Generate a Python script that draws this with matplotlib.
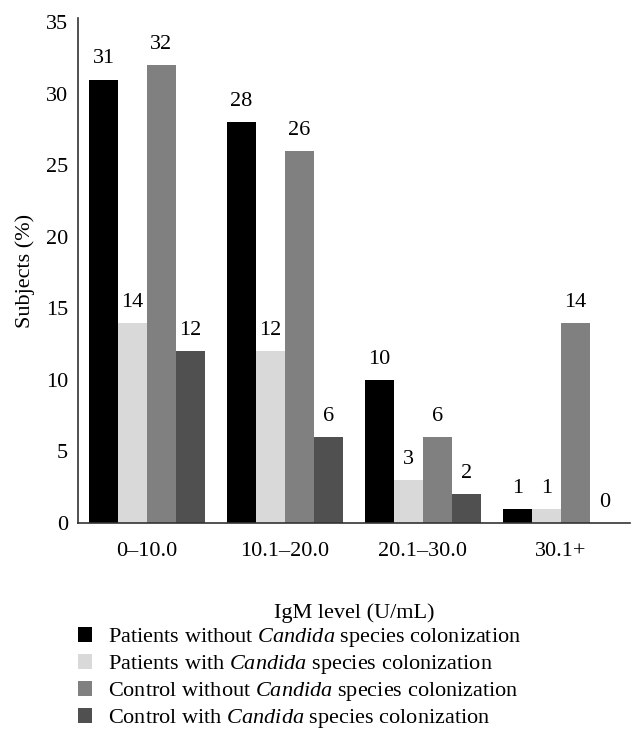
import matplotlib
matplotlib.use("Agg")
import matplotlib.pyplot as plt
import numpy as np

categories = ["0–10.0", "10.1–20.0", "20.1–30.0", "30.1+"]
series_names = [
    "Patients without $\\mathit{Candida}$ species colonization",
    "Patients with $\\mathit{Candida}$ species colonization",
    "Control without $\\mathit{Candida}$ species colonization",
    "Control with $\\mathit{Candida}$ species colonization",
]
patients_without = [31, 28, 10, 1]
patients_with = [14, 12, 3, 1]
control_without = [32, 26, 6, 14]
control_with = [12, 6, 2, 0]
series_values = [patients_without, patients_with, control_without, control_with]
colors = ["#000000", "#d9d9d9", "#808080", "#505050"]

plt.rcParams["font.family"] = ["Liberation Serif", "DejaVu Serif"]
plt.rcParams["mathtext.fontset"] = "custom"
plt.rcParams["mathtext.it"] = "Liberation Serif:italic"
plt.rcParams["mathtext.rm"] = "Liberation Serif"

FS = 16
fig = plt.figure(figsize=(6.43, 7.42), dpi=100)
ax = fig.add_axes([78/643, 1-523/742, (630-78)/643, (523-18)/742])

x = np.arange(len(categories))
w = 0.21
handles = []
for i, (vals, c) in enumerate(zip(series_values, colors)):
    pos = x + (i - 1.5) * w
    b = ax.bar(pos, vals, width=w, color=c, edgecolor="none")
    handles.append(b)
    for p, v in zip(pos, vals):
        ax.annotate(str(v), (p, v), xytext=(0, 8), textcoords="offset points",
                    ha="center", va="bottom", fontsize=FS)

ax.set_xlim(-0.5, 3.5)
ax.set_ylim(0, 35.3)
ax.set_yticks([0, 5, 10, 15, 20, 25, 30, 35])
ax.set_xticks(x)
ax.set_xticklabels(categories)
ax.tick_params(axis="both", length=0, labelsize=FS)
ax.tick_params(axis="y", pad=7)
ax.tick_params(axis="x", pad=14)
for s in ["top", "right"]:
    ax.spines[s].set_visible(False)
for s in ["left", "bottom"]:
    ax.spines[s].set_color("#333333")
    ax.spines[s].set_linewidth(1.2)
ax.set_ylabel("Subjects (%)", fontsize=FS, labelpad=8)
ax.set_xlabel("IgM level (U/mL)", fontsize=FS, labelpad=30)

fig.legend(handles, series_names, loc="upper left", bbox_to_anchor=(69/643, 1-617/742),
           frameon=False, fontsize=FS, handlelength=0.65, handleheight=0.65,
           handletextpad=0.7, labelspacing=0.18, borderaxespad=0)

fig.savefig("out.png", dpi=100)
